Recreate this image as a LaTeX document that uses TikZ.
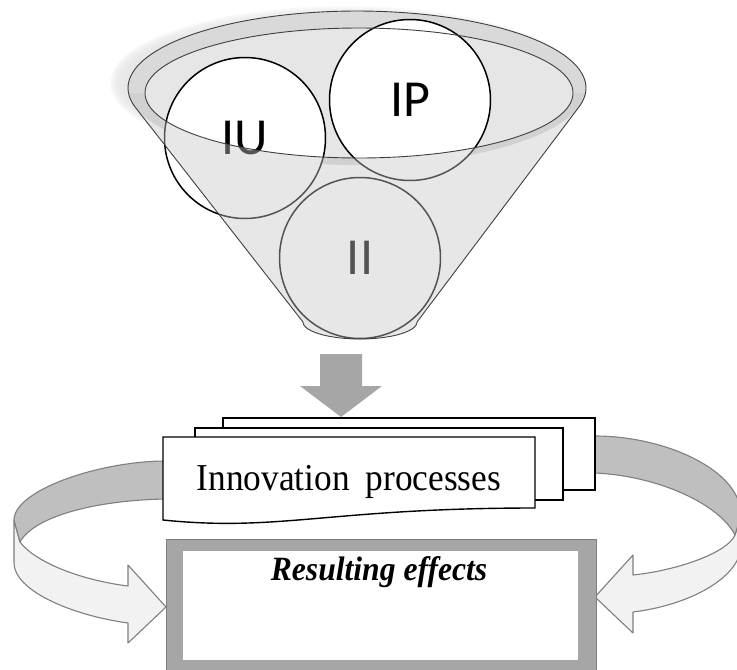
\documentclass[tikz,border=0pt]{standalone}
\usepackage{fontspec}
\setmainfont{Liberation Serif}
\newfontfamily\carlito{Carlito}
\definecolor{ringgray}{HTML}{D9D9D9}
\definecolor{innergray}{HTML}{E6E6E6}
\definecolor{overlaygray}{HTML}{C8C8C8}
\definecolor{darkband}{HTML}{BFBFBF}
\definecolor{lightband}{HTML}{F2F2F2}
\definecolor{bandline}{HTML}{7F7F7F}
\definecolor{blockgray}{HTML}{A6A6A6}
\definecolor{coneline}{HTML}{3F3F3F}
\begin{document}
\begin{tikzpicture}[x=1pt,y=-1pt,
  conestroke/.style={draw=coneline, line width=0.9pt},
  bubble/.style={circle, draw=black, line width=1.5pt, fill=white, minimum size=161pt, inner sep=0pt,
     font=\carlito\fontsize{52}{52}\selectfont},
  docshape/.style={draw=black, line width=1.4pt, fill=white, line join=miter},
  band/.style={draw=bandline, line width=1.1pt, line join=round},
  blockarrow/.style={fill=blockgray},
]
\useasboundingbox (0,0) rectangle (737,670);
\clip (0,0) rectangle (737,670);

% ---------- funnel ----------
% soft shadow
\foreach \i in {0,...,7}
  \fill[black!10, fill opacity=0.22] (345,83) ellipse ({235-1.5*\i} and {77-1.5*\i});
% cone silhouette (white base)
\fill[white] plot[domain=165.7:374.3,samples=90] ({357+229*cos(\x)},{88+77*sin(\x)})
   -- (417,322) -- plot[domain=0:180,samples=30] ({360+57*cos(\x)},{322+17*sin(\x)}) -- cycle;
% rim and inside
\fill[ringgray] (357,88) ellipse (229 and 77);
\fill[innergray] (359,93) ellipse (214 and 65);

% circles
\node[bubble] (ii) at (360,258) {II};
\node[bubble] (iu) at (245,138) {IU};
\node[bubble] (ipc) at (410,100) {IP};

% front of the cone (semi-transparent)
\begin{scope}
  \clip (0,93) rectangle (737,400);
  \fill[overlaygray, fill opacity=0.42, even odd rule]
    plot[domain=165.7:374.3,samples=90] ({357+229*cos(\x)},{88+77*sin(\x)})
    -- (417,322) -- plot[domain=0:180,samples=30] ({360+57*cos(\x)},{322+17*sin(\x)}) -- cycle
    (359,93) ellipse (214 and 65);
\end{scope}

% funnel outlines
\draw[conestroke] (359,93) ellipse (214 and 65);
\draw[conestroke, line join=round] plot[domain=165.7:374.3,samples=90] ({357+229*cos(\x)},{88+77*sin(\x)})
   -- (417,322) -- plot[domain=0:180,samples=30] ({360+57*cos(\x)},{322+17*sin(\x)}) -- cycle;

% ---------- down block arrow ----------
\fill[blockarrow] (320,354) -- (362,354) -- (362,386) -- (382,386) -- (341,417)
   -- (300,386) -- (320,386) -- cycle;

% ---------- curved arrows ----------
% left
\filldraw[band, fill=lightband] (14,520) -- (14,563) .. controls (14,590) and (70,615) .. (128,623)
   -- (128,643) -- (166,607) -- (128,565) -- (128,586)
   .. controls (80,580) and (35,562) .. (20,542) -- cycle;
\filldraw[band, fill=darkband] (166,461) .. controls (100,461) and (14,490) .. (14,520)
   -- (20,542) .. controls (35,515) and (100,500) .. (166,499) -- cycle;
% right
\filldraw[band, fill=lightband] (741,515) -- (741,548) .. controls (738,578) and (690,605) .. (633,612)
   -- (633,633) -- (595,597) -- (633,555) -- (633,575)
   .. controls (680,570) and (728,552) .. (735,535) -- cycle;
\filldraw[band, fill=darkband] (595,436) .. controls (665,436) and (741,470) .. (741,515)
   -- (735,535) .. controls (720,505) and (660,476) .. (595,473) -- cycle;

% ---------- stacked documents ----------
\draw[docshape] (223,418) rectangle (595,490);
\draw[docshape] (195,428) rectangle (563,500);
\draw[docshape] (163,437) -- (535,437) -- (535,508)
   .. controls (330,508) and (280,532) .. (163,520) -- cycle;
\node[anchor=base, inner sep=0pt, font=\fontsize{38}{42}\selectfont] (proc) at (349,490)
   {\scalebox{0.93}[1]{Innovation\hspace{17pt}processes}};

% ---------- resulting effects box ----------
\fill[blockgray] (166,539) rectangle (596,673);
\fill[white] (183,551) rectangle (578,660);
\draw[bandline, line width=0.8pt] (166,539) rectangle (596,673);
\node[anchor=base, inner sep=0pt, font=\fontsize{34}{38}\selectfont\bfseries\itshape] (eff) at (379,580)
   {\scalebox{0.93}[1]{Resulting effects}};
\end{tikzpicture}
\end{document}
